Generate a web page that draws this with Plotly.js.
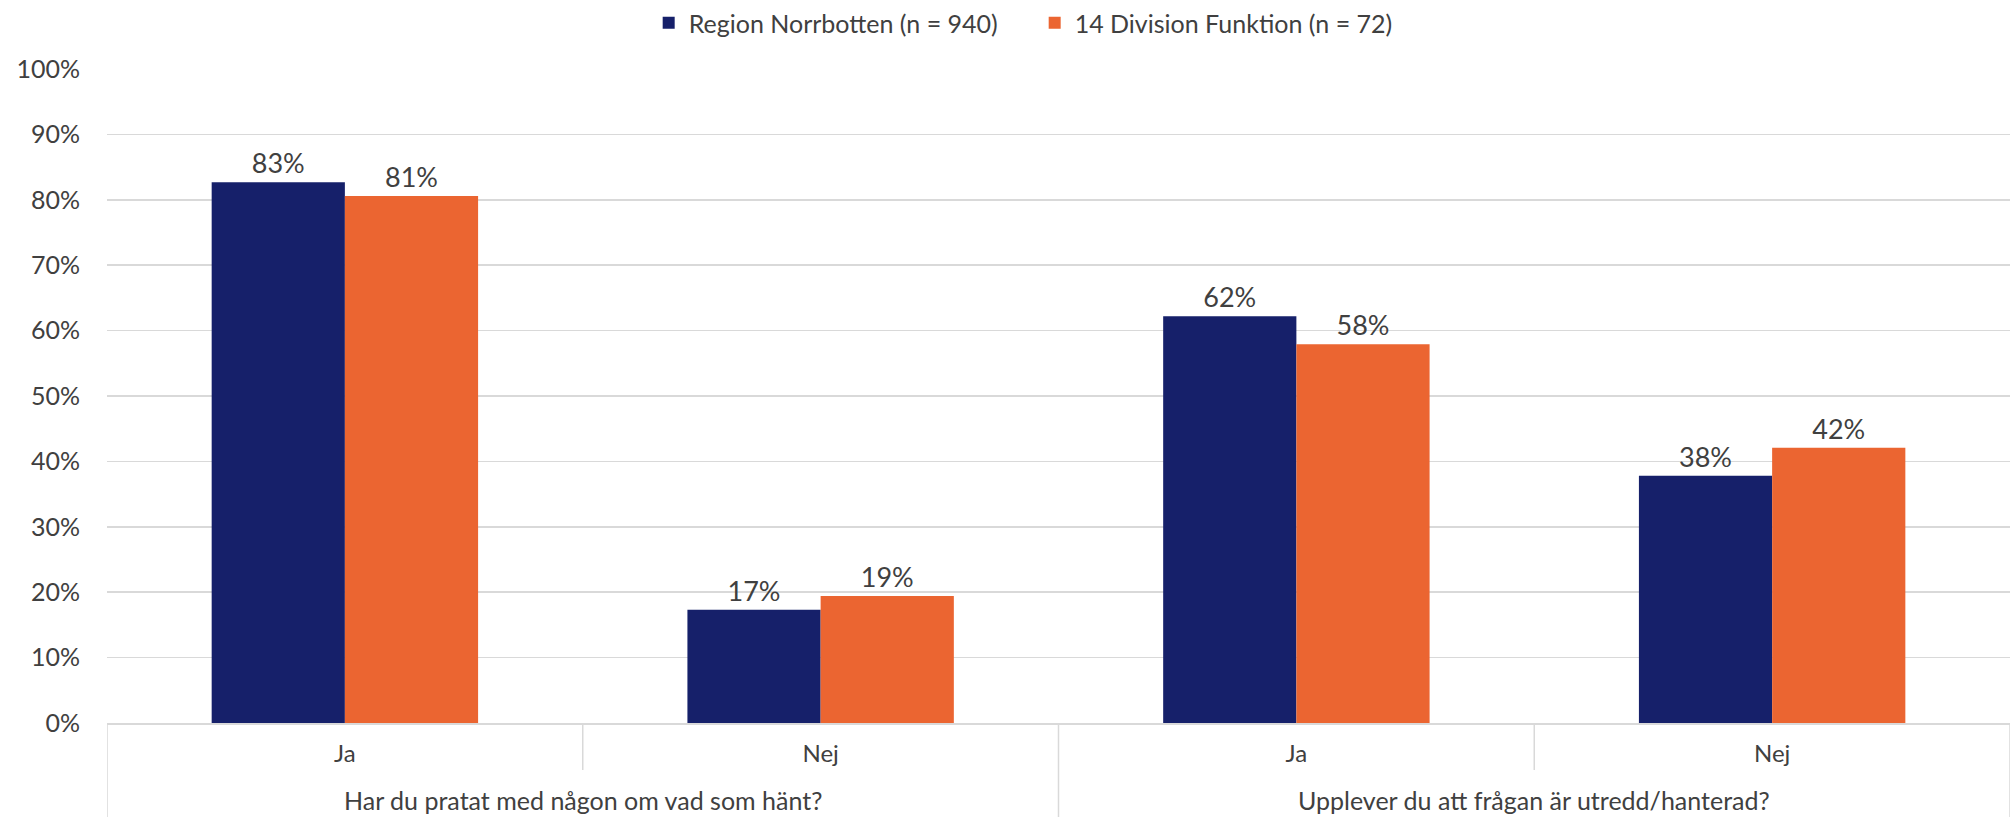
<!DOCTYPE html>
<html>
<head>
<meta charset="utf-8">
<script src="https://cdn.plot.ly/plotly-3.0.1.min.js"></script>
<style>html,body{margin:0;padding:0;background:#fff;}#chart{width:2013px;height:817px;}</style>
</head>
<body>
<div id="chart"></div>
<script>
const questions = ["Har du pratat med någon om vad som hänt?", "Upplever du att frågan är utredd/hanterad?"];
const questionOfCategory = [0, 0, 1, 1];
const answers = ["Ja", "Nej", "Ja", "Nej"];
const seriesNames = ["Region Norrbotten (n = 940)", "14 Division Funktion (n = 72)"];
const regionValues = [82.7, 17.3, 62.2, 37.8];
const divisionValues = [80.6, 19.4, 57.9, 42.1];
const colors = ["#16206A", "#EB6531"];
const font = "Lato, 'Open Sans', sans-serif";
const textColor = "#404040";
const lineColor = "#d9d9d9";

// unique category keys (question + answer), shown with the answer as tick text
const catKeys = answers.map((a, i) => questions[questionOfCategory[i]] + " | " + a);

function mk(name, vals, color) {
  return {
    type: "bar",
    name: name,
    x: catKeys,
    y: vals,
    marker: {color: color},
    text: vals.map(v => Math.round(v) + "%"),
    textposition: "outside",
    cliponaxis: false,
    textfont: {family: font, size: 27, color: textColor},
    hoverinfo: "skip"
  };
}

const data = [mk(seriesNames[0], regionValues, colors[0]), mk(seriesNames[1], divisionValues, colors[1])];

// dividers: short ones between answers, long ones between questions and at the ends
const shapes = [];
for (let i = 0; i <= answers.length; i++) {
  const isGroupEdge = i === 0 || i === answers.length || questionOfCategory[i] !== questionOfCategory[i - 1];
  shapes.push({type: "line", xref: "x", yref: "paper", x0: i - 0.5, x1: i - 0.5, y0: 0,
               y1: isGroupEdge ? -0.15 : -0.072, line: {color: lineColor, width: 1.5}});
}

// question labels centred under their answers
const annotations = questions.map((q, qi) => {
  const idx = questionOfCategory.map((v, i) => v === qi ? i : null).filter(v => v !== null);
  const mid = idx.reduce((a, b) => a + b, 0) / idx.length;
  return {xref: "x", yref: "paper", x: mid, y: 0, yanchor: "middle", yshift: -77, showarrow: false,
          borderpad: 0, text: q, font: {family: font, size: 25, color: textColor}};
});

const layout = {
  width: 2013, height: 817,
  margin: {l: 107, r: 3, t: 69, b: 94},
  paper_bgcolor: "#fff", plot_bgcolor: "#fff",
  barmode: "group",
  bargap: 0.44,
  bargroupgap: 0,
  font: {family: font, color: textColor, size: 24},
  showlegend: true,
  legend: {orientation: "h", x: 0.514, xref: "container", xanchor: "center", y: 1, yref: "container", yanchor: "top",
           font: {family: font, size: 25, color: textColor}, itemwidth: 30, entrywidth: 341, traceorder: "normal"},
  xaxis: {type: "category", tickmode: "array", tickvals: catKeys, ticktext: answers,
          range: [-0.5, answers.length - 0.5],
          showgrid: false, showline: true, linecolor: lineColor, linewidth: 1.5, ticklabelstandoff: 9,
          tickfont: {family: font, size: 24, color: textColor}, ticks: ""},
  yaxis: {range: [0, 100], dtick: 10, ticksuffix: "%", showgrid: true, gridcolor: lineColor, gridwidth: 1.5,
          zeroline: false, showline: false, tickfont: {family: font, size: 25, color: textColor}, ticks: "", ticklabelstandoff: 26},
  shapes: shapes,
  annotations: annotations
};

Plotly.newPlot("chart", data, layout, {displayModeBar: false, staticPlot: true});
</script>
</body>
</html>
